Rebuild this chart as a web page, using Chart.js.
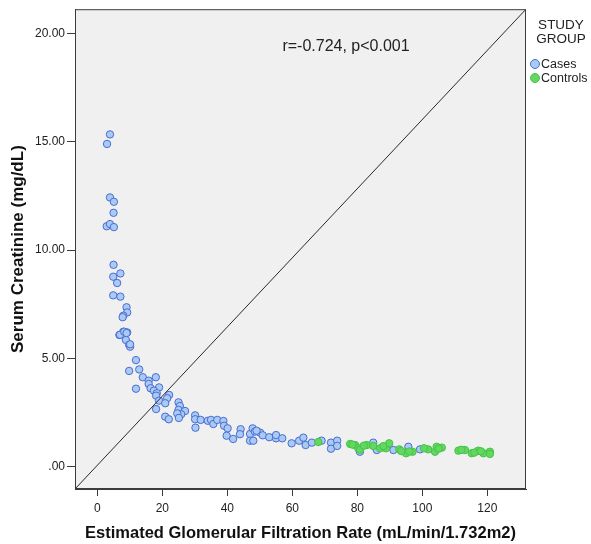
<!DOCTYPE html>
<html>
<head>
<meta charset="utf-8">
<script src="https://cdn.jsdelivr.net/npm/chart.js@4"></script>
<style>
  html, body { margin: 0; padding: 0; background: #ffffff; }
  #wrap { width: 591px; height: 544px; }
</style>
</head>
<body>
<div id="wrap"><canvas id="chart" width="591" height="544"></canvas></div>
<script>
// eGFR (x) / serum creatinine (y)
const casesX = [3.9, 3.0, 3.9, 5.1, 5.0, 2.9, 3.9, 5.1, 5.0, 7.1, 4.9, 6.1, 4.9, 7.1, 9.0, 9.2, 8.0, 7.8,
  8.0, 9.2, 6.8, 8.8, 9.8, 10.1, 11.9, 7.0, 8.3, 9.0, 10.1, 9.8, 12.9, 14.0, 15.8, 18.0, 15.8, 16.4,
  19.0, 11.9, 17.4, 18.3, 18.1, 22.1, 21.5, 19.0, 20.9, 18.1, 25.0, 25.4, 25.0, 27.0, 25.8, 24.6, 25.1,
  20.9, 22.0, 30.1, 30.1, 30.2, 31.8, 34.0, 35.0, 35.7, 36.9, 38.8, 39.0, 40.1, 39.8, 41.8, 44.1, 43.9,
  47.0, 47.8, 48.5, 47.0, 48.0, 50.1, 50.9, 52.9, 55.0, 49.0, 55.0, 56.9, 59.8, 62.1, 63.4, 64.1, 66.0,
  69.0, 71.9, 73.8, 71.9, 73.8, 80.8, 84.9, 86.0, 91.1, 95.7, 99.3];
const casesY = [15.34, 14.9, 12.43, 12.23, 11.72, 11.1, 11.2, 11.06, 9.32, 8.92, 8.77, 8.48, 7.91, 7.85, 7.36, 7.12, 6.97, 6.9,
  6.23, 6.2, 6.08, 5.85, 5.63, 5.54, 4.92, 6.09, 6.23, 6.17, 5.65, 4.42, 4.49, 4.13, 3.97, 4.13, 3.82, 3.62,
  3.66, 3.6, 3.51, 3.39, 3.28, 3.31, 3.16, 3.05, 2.93, 2.66, 2.97, 2.8, 2.62, 2.57, 2.42, 2.46, 2.25,
  2.31, 2.19, 2.37, 2.19, 1.8, 2.16, 2.12, 2.16, 1.97, 2.16, 2.11, 1.89, 1.77, 1.43, 1.28, 1.73, 1.5,
  1.51, 1.77, 1.62, 1.2, 1.2, 1.57, 1.45, 1.36, 1.31, 1.66, 1.46, 1.31, 1.08, 1.2, 1.34, 1.0, 1.11,
  1.2, 1.11, 1.2, 0.83, 0.96, 0.69, 1.11, 0.77, 0.77, 0.92, 0.8];
const controlsX = [68.0, 77.8, 79.3, 80.3, 80.8, 82.9, 84.9, 87.0, 88.8, 89.8, 92.9, 95.0, 97.0, 101.8, 103.9, 106.0,
  104.4, 111.1, 113.1, 115.2, 117.2, 118.8, 120.8, 120.8, 78.5, 82.0, 88.0, 93.5, 96.0, 100.5, 105.0, 112.0, 116.0, 118.0];
const controlsY = [1.14, 1.05, 1.0, 0.85, 0.78, 1.0, 0.96, 0.85, 0.85, 1.08, 0.8, 0.62, 0.69, 0.8, 0.69, 0.88,
  0.92, 0.74, 0.77, 0.62, 0.74, 0.62, 0.69, 0.59, 1.02, 0.97, 0.95, 0.72, 0.7, 0.85, 0.83, 0.78, 0.65, 0.71];

const xTicks = [0, 20, 40, 60, 80, 100, 120];
const yTicks = [0, 5, 10, 15, 20];
const xRange = [-6.86, 131.9];
const yRange = [-1.03, 21.12];
const legendTitle = ['STUDY', 'GROUP'];
const groupNames = ['Cases', 'Controls'];
const statText = 'r=-0.724, p<0.001';

const toPoints = (xs, ys) => xs.map((x, i) => ({ x: x, y: ys[i] }));

const caseStyle = { bg: '#a9caf2', border: '#4a6cd4' };
const ctrlStyle = { bg: '#62d862', border: '#45c445' };
const fontFam = 'Arial, "Liberation Sans", sans-serif';

// grey plot area + frame, annotation and legend
const frame = {
  id: 'frame',
  beforeDraw(chart) {
    const { ctx, chartArea: a } = chart;
    ctx.save();
    ctx.fillStyle = '#f0f0f0';
    ctx.fillRect(a.left, a.top, a.right - a.left, a.bottom - a.top);
    ctx.restore();
  },
  afterDraw(chart) {
    const { ctx, chartArea: a } = chart;
    ctx.save();
    ctx.strokeStyle = '#3c3c3c';
    ctx.lineWidth = 1;
    ctx.strokeRect(a.left + 0.5, a.top + 0.5, a.right - a.left - 1, a.bottom - a.top - 1);

    ctx.fillStyle = '#222';
    ctx.font = '16px ' + fontFam;
    ctx.textAlign = 'center';
    ctx.textBaseline = 'middle';
    ctx.fillText(statText, 346, 47);

    ctx.font = '13.5px ' + fontFam;
    ctx.fillText(legendTitle[0], 561, 25);
    ctx.fillText(legendTitle[1], 561, 39);
    const styles = [caseStyle, ctrlStyle];
    ctx.font = '12.5px ' + fontFam;
    ctx.textAlign = 'left';
    groupNames.forEach((name, i) => {
      const y = 64 + i * 14;
      ctx.beginPath();
      ctx.arc(535, y, 4.5, 0, Math.PI * 2);
      ctx.fillStyle = styles[i].bg;
      ctx.fill();
      ctx.strokeStyle = styles[i].border;
      ctx.stroke();
      ctx.fillStyle = '#222';
      ctx.fillText(name, 541, y + 1);
    });
    ctx.restore();
  }
};

const ctx = document.getElementById('chart').getContext('2d');
new Chart(ctx, {
  type: 'scatter',
  data: {
    datasets: [
      {
        label: 'ref',
        type: 'line',
        data: [{ x: xRange[0], y: yRange[0] }, { x: xRange[1], y: yRange[1] }],
        borderColor: '#2a2a2a',
        borderWidth: 1,
        pointRadius: 0,
        fill: false,
        order: 0
      },
      {
        label: groupNames[1],
        data: toPoints(controlsX, controlsY),
        backgroundColor: ctrlStyle.bg,
        borderColor: ctrlStyle.border,
        borderWidth: 1,
        pointRadius: 3.7,
        order: 1
      },
      {
        label: groupNames[0],
        data: toPoints(casesX, casesY),
        backgroundColor: caseStyle.bg,
        borderColor: caseStyle.border,
        borderWidth: 1,
        pointRadius: 3.7,
        order: 2
      }
    ]
  },
  options: {
    responsive: false,
    animation: false,
    layout: { padding: { top: 9, right: 65, left: 0, bottom: 0 } },
    plugins: {
      legend: { display: false },
      tooltip: { enabled: false }
    },
    scales: {
      x: {
        type: 'linear',
        min: xRange[0],
        max: xRange[1],
        afterBuildTicks: s => { s.ticks = xTicks.map(v => ({ value: v })); },
        afterFit: s => { s.height = 55; },
        grid: { drawOnChartArea: false, drawTicks: true, tickLength: 7, color: '#3c3c3c' },
        border: { display: true, color: '#3c3c3c' },
        ticks: {
          color: '#222',
          padding: 5,
          font: { family: fontFam, size: 12 },
          maxRotation: 0
        },
        title: {
          display: true,
          text: 'Estimated Glomerular Filtration Rate (mL/min/1.732m2)',
          color: '#111',
          font: { family: fontFam, size: 16.5, weight: 'bold' },
          padding: { top: 4, bottom: 1 }
        }
      },
      y: {
        type: 'linear',
        min: yRange[0],
        max: yRange[1],
        afterBuildTicks: s => { s.ticks = yTicks.map(v => ({ value: v })); },
        afterFit: s => { s.width = 75; },
        grid: { drawOnChartArea: false, drawTicks: true, tickLength: 8, color: '#3c3c3c' },
        border: { display: true, color: '#3c3c3c' },
        ticks: {
          color: '#222',
          padding: 2,
          font: { family: fontFam, size: 12 },
          callback: v => (v === 0 ? '.00' : v.toFixed(2))
        },
        title: {
          display: true,
          text: 'Serum Creatinine (mg/dL)',
          color: '#111',
          font: { family: fontFam, size: 17, weight: 'bold' },
          padding: { top: 8, bottom: 4 }
        }
      }
    }
  },
  plugins: [frame]
});
</script>
</body>
</html>
